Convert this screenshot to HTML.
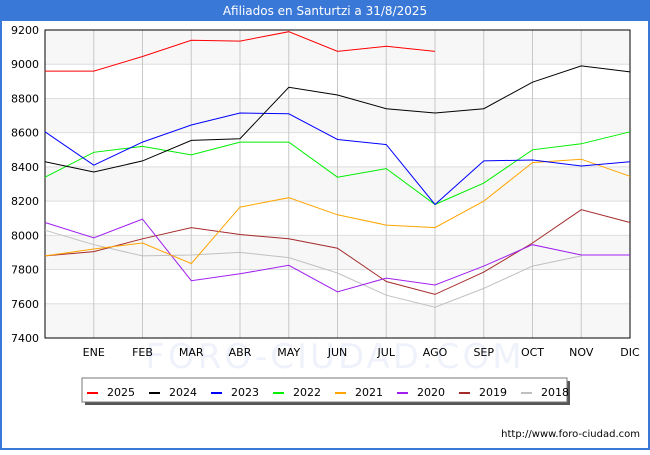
<!DOCTYPE html>
<html><head><meta charset="utf-8"><style>
body{margin:0;width:650px;height:450px;overflow:hidden;background:#fff;font-family:"Liberation Sans","DejaVu Sans",sans-serif}
</style></head><body>
<svg id="chart" width="650" height="450" xmlns="http://www.w3.org/2000/svg" font-family="DejaVu Sans, Liberation Sans, sans-serif">
<rect x="0" y="0" width="650" height="450" fill="#fff"/>
<rect x="0" y="0" width="650" height="21" fill="#3a78d8"/>
<text x="325" y="15" text-anchor="middle" fill="#fff" font-size="12">Afiliados en Santurtzi a 31/8/2025</text>
<rect x="0" y="21" width="2" height="429" fill="#3a78d8"/>
<rect x="648" y="21" width="2" height="429" fill="#3a78d8"/>
<rect x="0" y="448" width="650" height="2" fill="#3a78d8"/>
<g id="plot"></g>
<g id="legend"></g>
<text x="640" y="437" text-anchor="end" font-size="10" fill="#000">http://www.foro-ciudad.com</text>
</svg>
<script>
const months = ["","ENE","FEB","MAR","ABR","MAY","JUN","JUL","AGO","SEP","OCT","NOV","DIC"];
const yTicks = [7400,7600,7800,8000,8200,8400,8600,8800,9000,9200];
const seriesNames = ["2025","2024","2023","2022","2021","2020","2019","2018"];
const seriesColors = ["#ff0000","#000000","#0000ff","#00ee00","#ffa500","#a020f0","#a52a2a","#c0c0c0"];
const s2025 = [8960,8960,9045,9140,9135,9190,9075,9105,9075];
const s2024 = [8430,8370,8435,8555,8565,8865,8820,8740,8715,8740,8895,8990,8955];
const s2023 = [8605,8410,8545,8645,8715,8710,8560,8530,8180,8435,8440,8405,8430];
const s2022 = [8340,8485,8520,8470,8545,8545,8340,8390,8180,8305,8500,8535,8605];
const s2021 = [7880,7920,7955,7835,8165,8220,8120,8060,8045,8200,8425,8445,8345];
const s2020 = [8075,7985,8095,7735,7775,7825,7670,7750,7710,7820,7945,7885,7885];
const s2019 = [7880,7905,7980,8045,8005,7980,7925,7730,7655,7785,7955,8150,8075];
const s2018 = [8030,7945,7880,7885,7900,7870,7780,7650,7580,7690,7820,7880];
const allSeries = [s2025,s2024,s2023,s2022,s2021,s2020,s2019,s2018];

const L=45,R=630,T=30,B=338,ymin=7400,ymax=9200;
const x = i => L + i*(R-L)/12;
const y = v => B - (v-ymin)*(B-T)/(ymax-ymin);
const NS="http://www.w3.org/2000/svg";
const plot=document.getElementById('plot');
function mk(tag,attrs,parent){const e=document.createElementNS(NS,tag);for(const k in attrs)e.setAttribute(k,attrs[k]);parent.appendChild(e);return e;}
for(let i=0;i<yTicks.length-1;i++){
  if(i%2===0){
    const r=mk('rect',{x:L,y:y(yTicks[i+1]),width:R-L,height:y(yTicks[i])-y(yTicks[i+1]),fill:'#f7f7f7'},plot);
    
    
  }
}
const wm=mk('text',{x:335,y:368,'text-anchor':'middle','font-size':34,fill:'#f0f2fb','letter-spacing':3},plot);
wm.textContent='FORO-CIUDAD.COM';


yTicks.forEach(v=>{
  const g=mk('line',{x1:L,x2:R,y1:y(v),y2:y(v),stroke:'#dddddd','stroke-width':1},plot);
  
  
  const t=mk('text',{x:L-6,y:y(v)+4,'text-anchor':'end','font-size':11,fill:'#000'},plot);
  t.textContent=v;
  
  
});
months.forEach((m,i)=>{
  if(i===0)return;
  const g=mk('line',{x1:x(i),x2:x(i),y1:T,y2:B,stroke:'#c8c8c8','stroke-width':1},plot);
  
  
  const t=mk('text',{x:x(i),y:B+18,'text-anchor':'middle','font-size':11,fill:'#000'},plot);
  t.textContent=m;
  
  
});
const fr=mk('rect',{x:L,y:T,width:R-L,height:B-T,fill:'none',stroke:'#000','stroke-width':1},plot);


for(let s=allSeries.length-1;s>=0;s--){
  const pts=allSeries[s].map((v,i)=>x(i).toFixed(1)+','+y(v).toFixed(1)).join(' ');
  const p=mk('polyline',{points:pts,fill:'none',stroke:seriesColors[s],'stroke-width':1},plot);
  
  
}
const lg=document.getElementById('legend');
const sh=mk('rect',{x:85,y:381,width:485,height:24,fill:'#555'},lg);


const lb=mk('rect',{x:82,y:378,width:485,height:24,fill:'#fff',stroke:'#777','stroke-width':1},lg);


seriesNames.forEach((n,i)=>{
  const bx=87+i*62;
  const l=mk('rect',{x:bx,y:392,width:11,height:2,fill:seriesColors[i]},lg);
  
  
  const t=mk('text',{x:bx+20,y:396,'font-size':11,fill:'#000'},lg);
  t.textContent=n;
  
  
});
</script>
</body></html>
